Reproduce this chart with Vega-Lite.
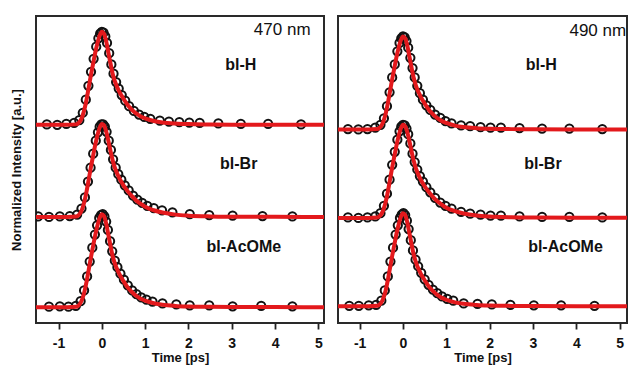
{
  "$schema": "https://vega.github.io/schema/vega-lite/v6.json",
  "background": "white",
  "padding": {"left": 9, "top": 15, "right": 2, "bottom": 0},
  "spacing": 12,
  "config": {
    "font": "Liberation Sans",
    "view": {"stroke": "#2a2a2a", "strokeWidth": 2},
    "axis": {"grid": false, "domain": false}
  },
  "datasets": {
    "obs": [
      {"p":"470 nm","s":"bl-H","t":-1.27,"y":1.965},{"p":"470 nm","s":"bl-H","t":-1.03,"y":1.96},{"p":"470 nm","s":"bl-H","t":-0.82,"y":1.97},{"p":"470 nm","s":"bl-H","t":-0.64,"y":1.98},{"p":"470 nm","s":"bl-H","t":-0.52,"y":2.01},{"p":"470 nm","s":"bl-H","t":-0.44,"y":2.09},{"p":"470 nm","s":"bl-H","t":-0.37,"y":2.23},{"p":"470 nm","s":"bl-H","t":-0.31,"y":2.38},{"p":"470 nm","s":"bl-H","t":-0.25,"y":2.53},{"p":"470 nm","s":"bl-H","t":-0.19,"y":2.67},{"p":"470 nm","s":"bl-H","t":-0.13,"y":2.8},{"p":"470 nm","s":"bl-H","t":-0.08,"y":2.89},{"p":"470 nm","s":"bl-H","t":-0.04,"y":2.94},{"p":"470 nm","s":"bl-H","t":0.0,"y":2.96},{"p":"470 nm","s":"bl-H","t":0.04,"y":2.95},{"p":"470 nm","s":"bl-H","t":0.08,"y":2.91},{"p":"470 nm","s":"bl-H","t":0.12,"y":2.84},{"p":"470 nm","s":"bl-H","t":0.17,"y":2.73},{"p":"470 nm","s":"bl-H","t":0.22,"y":2.61},{"p":"470 nm","s":"bl-H","t":0.27,"y":2.51},{"p":"470 nm","s":"bl-H","t":0.33,"y":2.42},{"p":"470 nm","s":"bl-H","t":0.39,"y":2.35},{"p":"470 nm","s":"bl-H","t":0.46,"y":2.28},{"p":"470 nm","s":"bl-H","t":0.54,"y":2.22},{"p":"470 nm","s":"bl-H","t":0.63,"y":2.16},{"p":"470 nm","s":"bl-H","t":0.74,"y":2.11},{"p":"470 nm","s":"bl-H","t":0.86,"y":2.07},{"p":"470 nm","s":"bl-H","t":0.98,"y":2.045},{"p":"470 nm","s":"bl-H","t":1.12,"y":2.025},{"p":"470 nm","s":"bl-H","t":1.34,"y":2.005},{"p":"470 nm","s":"bl-H","t":1.55,"y":1.995},{"p":"470 nm","s":"bl-H","t":1.79,"y":1.99},{"p":"470 nm","s":"bl-H","t":2.02,"y":1.985},{"p":"470 nm","s":"bl-H","t":2.26,"y":1.98},{"p":"470 nm","s":"bl-H","t":2.69,"y":1.975},{"p":"470 nm","s":"bl-H","t":3.21,"y":1.97},{"p":"470 nm","s":"bl-H","t":3.84,"y":1.97},{"p":"470 nm","s":"bl-H","t":4.6,"y":1.965},

      {"p":"470 nm","s":"bl-Br","t":-1.47,"y":0.975},{"p":"470 nm","s":"bl-Br","t":-1.22,"y":0.97},{"p":"470 nm","s":"bl-Br","t":-0.97,"y":0.975},{"p":"470 nm","s":"bl-Br","t":-0.74,"y":0.98},{"p":"470 nm","s":"bl-Br","t":-0.57,"y":0.995},{"p":"470 nm","s":"bl-Br","t":-0.47,"y":1.06},{"p":"470 nm","s":"bl-Br","t":-0.39,"y":1.18},{"p":"470 nm","s":"bl-Br","t":-0.32,"y":1.35},{"p":"470 nm","s":"bl-Br","t":-0.26,"y":1.5},{"p":"470 nm","s":"bl-Br","t":-0.2,"y":1.65},{"p":"470 nm","s":"bl-Br","t":-0.14,"y":1.79},{"p":"470 nm","s":"bl-Br","t":-0.09,"y":1.88},{"p":"470 nm","s":"bl-Br","t":-0.05,"y":1.94},{"p":"470 nm","s":"bl-Br","t":-0.01,"y":1.965},{"p":"470 nm","s":"bl-Br","t":0.03,"y":1.965},{"p":"470 nm","s":"bl-Br","t":0.07,"y":1.94},{"p":"470 nm","s":"bl-Br","t":0.11,"y":1.885},{"p":"470 nm","s":"bl-Br","t":0.16,"y":1.79},{"p":"470 nm","s":"bl-Br","t":0.21,"y":1.69},{"p":"470 nm","s":"bl-Br","t":0.26,"y":1.59},{"p":"470 nm","s":"bl-Br","t":0.32,"y":1.5},{"p":"470 nm","s":"bl-Br","t":0.38,"y":1.43},{"p":"470 nm","s":"bl-Br","t":0.45,"y":1.37},{"p":"470 nm","s":"bl-Br","t":0.53,"y":1.31},{"p":"470 nm","s":"bl-Br","t":0.62,"y":1.255},{"p":"470 nm","s":"bl-Br","t":0.72,"y":1.2},{"p":"470 nm","s":"bl-Br","t":0.82,"y":1.155},{"p":"470 nm","s":"bl-Br","t":0.93,"y":1.12},{"p":"470 nm","s":"bl-Br","t":1.05,"y":1.09},{"p":"470 nm","s":"bl-Br","t":1.2,"y":1.065},{"p":"470 nm","s":"bl-Br","t":1.39,"y":1.04},{"p":"470 nm","s":"bl-Br","t":1.63,"y":1.02},{"p":"470 nm","s":"bl-Br","t":2.03,"y":1.0},{"p":"470 nm","s":"bl-Br","t":2.48,"y":0.99},{"p":"470 nm","s":"bl-Br","t":3.02,"y":0.985},{"p":"470 nm","s":"bl-Br","t":3.71,"y":0.98},{"p":"470 nm","s":"bl-Br","t":4.4,"y":0.975},

      {"p":"470 nm","s":"bl-AcOMe","t":-1.22,"y":0.005},{"p":"470 nm","s":"bl-AcOMe","t":-0.97,"y":0.01},{"p":"470 nm","s":"bl-AcOMe","t":-0.77,"y":0.005},{"p":"470 nm","s":"bl-AcOMe","t":-0.6,"y":0.015},{"p":"470 nm","s":"bl-AcOMe","t":-0.49,"y":0.065},{"p":"470 nm","s":"bl-AcOMe","t":-0.41,"y":0.18},{"p":"470 nm","s":"bl-AcOMe","t":-0.34,"y":0.33},{"p":"470 nm","s":"bl-AcOMe","t":-0.28,"y":0.49},{"p":"470 nm","s":"bl-AcOMe","t":-0.22,"y":0.64},{"p":"470 nm","s":"bl-AcOMe","t":-0.16,"y":0.78},{"p":"470 nm","s":"bl-AcOMe","t":-0.11,"y":0.88},{"p":"470 nm","s":"bl-AcOMe","t":-0.06,"y":0.96},{"p":"470 nm","s":"bl-AcOMe","t":-0.02,"y":0.99},{"p":"470 nm","s":"bl-AcOMe","t":0.02,"y":1.0},{"p":"470 nm","s":"bl-AcOMe","t":0.06,"y":0.975},{"p":"470 nm","s":"bl-AcOMe","t":0.1,"y":0.92},{"p":"470 nm","s":"bl-AcOMe","t":0.14,"y":0.83},{"p":"470 nm","s":"bl-AcOMe","t":0.19,"y":0.71},{"p":"470 nm","s":"bl-AcOMe","t":0.24,"y":0.6},{"p":"470 nm","s":"bl-AcOMe","t":0.3,"y":0.5},{"p":"470 nm","s":"bl-AcOMe","t":0.36,"y":0.43},{"p":"470 nm","s":"bl-AcOMe","t":0.43,"y":0.36},{"p":"470 nm","s":"bl-AcOMe","t":0.51,"y":0.295},{"p":"470 nm","s":"bl-AcOMe","t":0.6,"y":0.235},{"p":"470 nm","s":"bl-AcOMe","t":0.7,"y":0.18},{"p":"470 nm","s":"bl-AcOMe","t":0.8,"y":0.14},{"p":"470 nm","s":"bl-AcOMe","t":0.91,"y":0.105},{"p":"470 nm","s":"bl-AcOMe","t":1.03,"y":0.08},{"p":"470 nm","s":"bl-AcOMe","t":1.17,"y":0.06},{"p":"470 nm","s":"bl-AcOMe","t":1.4,"y":0.04},{"p":"470 nm","s":"bl-AcOMe","t":1.72,"y":0.03},{"p":"470 nm","s":"bl-AcOMe","t":2.03,"y":0.02},{"p":"470 nm","s":"bl-AcOMe","t":2.48,"y":0.02},{"p":"470 nm","s":"bl-AcOMe","t":3.02,"y":0.01},{"p":"470 nm","s":"bl-AcOMe","t":3.68,"y":0.015},{"p":"470 nm","s":"bl-AcOMe","t":4.4,"y":0.01},

      {"p":"490 nm","s":"bl-H","t":-1.27,"y":1.915},{"p":"490 nm","s":"bl-H","t":-1.03,"y":1.91},{"p":"490 nm","s":"bl-H","t":-0.82,"y":1.915},{"p":"490 nm","s":"bl-H","t":-0.64,"y":1.93},{"p":"490 nm","s":"bl-H","t":-0.52,"y":1.96},{"p":"490 nm","s":"bl-H","t":-0.44,"y":2.03},{"p":"490 nm","s":"bl-H","t":-0.37,"y":2.16},{"p":"490 nm","s":"bl-H","t":-0.31,"y":2.31},{"p":"490 nm","s":"bl-H","t":-0.25,"y":2.47},{"p":"490 nm","s":"bl-H","t":-0.19,"y":2.61},{"p":"490 nm","s":"bl-H","t":-0.13,"y":2.75},{"p":"490 nm","s":"bl-H","t":-0.08,"y":2.84},{"p":"490 nm","s":"bl-H","t":-0.04,"y":2.89},{"p":"490 nm","s":"bl-H","t":0.0,"y":2.91},{"p":"490 nm","s":"bl-H","t":0.04,"y":2.9},{"p":"490 nm","s":"bl-H","t":0.08,"y":2.86},{"p":"490 nm","s":"bl-H","t":0.12,"y":2.79},{"p":"490 nm","s":"bl-H","t":0.17,"y":2.68},{"p":"490 nm","s":"bl-H","t":0.22,"y":2.57},{"p":"490 nm","s":"bl-H","t":0.27,"y":2.47},{"p":"490 nm","s":"bl-H","t":0.33,"y":2.38},{"p":"490 nm","s":"bl-H","t":0.39,"y":2.3},{"p":"490 nm","s":"bl-H","t":0.46,"y":2.23},{"p":"490 nm","s":"bl-H","t":0.54,"y":2.17},{"p":"490 nm","s":"bl-H","t":0.63,"y":2.12},{"p":"490 nm","s":"bl-H","t":0.74,"y":2.07},{"p":"490 nm","s":"bl-H","t":0.86,"y":2.035},{"p":"490 nm","s":"bl-H","t":0.98,"y":2.0},{"p":"490 nm","s":"bl-H","t":1.12,"y":1.975},{"p":"490 nm","s":"bl-H","t":1.34,"y":1.955},{"p":"490 nm","s":"bl-H","t":1.55,"y":1.945},{"p":"490 nm","s":"bl-H","t":1.79,"y":1.935},{"p":"490 nm","s":"bl-H","t":2.02,"y":1.93},{"p":"490 nm","s":"bl-H","t":2.26,"y":1.93},{"p":"490 nm","s":"bl-H","t":2.69,"y":1.925},{"p":"490 nm","s":"bl-H","t":3.21,"y":1.92},{"p":"490 nm","s":"bl-H","t":3.84,"y":1.92},{"p":"490 nm","s":"bl-H","t":4.6,"y":1.915},

      {"p":"490 nm","s":"bl-Br","t":-1.27,"y":0.965},{"p":"490 nm","s":"bl-Br","t":-1.03,"y":0.96},{"p":"490 nm","s":"bl-Br","t":-0.82,"y":0.965},{"p":"490 nm","s":"bl-Br","t":-0.64,"y":0.975},{"p":"490 nm","s":"bl-Br","t":-0.52,"y":1.01},{"p":"490 nm","s":"bl-Br","t":-0.44,"y":1.09},{"p":"490 nm","s":"bl-Br","t":-0.37,"y":1.22},{"p":"490 nm","s":"bl-Br","t":-0.31,"y":1.37},{"p":"490 nm","s":"bl-Br","t":-0.25,"y":1.53},{"p":"490 nm","s":"bl-Br","t":-0.19,"y":1.67},{"p":"490 nm","s":"bl-Br","t":-0.13,"y":1.8},{"p":"490 nm","s":"bl-Br","t":-0.08,"y":1.89},{"p":"490 nm","s":"bl-Br","t":-0.04,"y":1.94},{"p":"490 nm","s":"bl-Br","t":0.0,"y":1.96},{"p":"490 nm","s":"bl-Br","t":0.04,"y":1.955},{"p":"490 nm","s":"bl-Br","t":0.08,"y":1.92},{"p":"490 nm","s":"bl-Br","t":0.12,"y":1.86},{"p":"490 nm","s":"bl-Br","t":0.17,"y":1.76},{"p":"490 nm","s":"bl-Br","t":0.22,"y":1.65},{"p":"490 nm","s":"bl-Br","t":0.27,"y":1.56},{"p":"490 nm","s":"bl-Br","t":0.33,"y":1.48},{"p":"490 nm","s":"bl-Br","t":0.39,"y":1.41},{"p":"490 nm","s":"bl-Br","t":0.46,"y":1.35},{"p":"490 nm","s":"bl-Br","t":0.54,"y":1.29},{"p":"490 nm","s":"bl-Br","t":0.63,"y":1.235},{"p":"490 nm","s":"bl-Br","t":0.74,"y":1.175},{"p":"490 nm","s":"bl-Br","t":0.86,"y":1.125},{"p":"490 nm","s":"bl-Br","t":0.98,"y":1.09},{"p":"490 nm","s":"bl-Br","t":1.12,"y":1.06},{"p":"490 nm","s":"bl-Br","t":1.34,"y":1.025},{"p":"490 nm","s":"bl-Br","t":1.55,"y":1.005},{"p":"490 nm","s":"bl-Br","t":1.79,"y":0.995},{"p":"490 nm","s":"bl-Br","t":2.02,"y":0.985},{"p":"490 nm","s":"bl-Br","t":2.26,"y":0.985},{"p":"490 nm","s":"bl-Br","t":2.69,"y":0.975},{"p":"490 nm","s":"bl-Br","t":3.21,"y":0.97},{"p":"490 nm","s":"bl-Br","t":3.84,"y":0.97},{"p":"490 nm","s":"bl-Br","t":4.6,"y":0.965},

      {"p":"490 nm","s":"bl-AcOMe","t":-1.24,"y":0.015},{"p":"490 nm","s":"bl-AcOMe","t":-1.02,"y":0.015},{"p":"490 nm","s":"bl-AcOMe","t":-0.79,"y":0.02},{"p":"490 nm","s":"bl-AcOMe","t":-0.62,"y":0.025},{"p":"490 nm","s":"bl-AcOMe","t":-0.5,"y":0.07},{"p":"490 nm","s":"bl-AcOMe","t":-0.42,"y":0.18},{"p":"490 nm","s":"bl-AcOMe","t":-0.35,"y":0.33},{"p":"490 nm","s":"bl-AcOMe","t":-0.29,"y":0.49},{"p":"490 nm","s":"bl-AcOMe","t":-0.23,"y":0.64},{"p":"490 nm","s":"bl-AcOMe","t":-0.17,"y":0.78},{"p":"490 nm","s":"bl-AcOMe","t":-0.12,"y":0.88},{"p":"490 nm","s":"bl-AcOMe","t":-0.07,"y":0.96},{"p":"490 nm","s":"bl-AcOMe","t":-0.03,"y":0.995},{"p":"490 nm","s":"bl-AcOMe","t":0.01,"y":1.01},{"p":"490 nm","s":"bl-AcOMe","t":0.05,"y":0.99},{"p":"490 nm","s":"bl-AcOMe","t":0.09,"y":0.93},{"p":"490 nm","s":"bl-AcOMe","t":0.13,"y":0.84},{"p":"490 nm","s":"bl-AcOMe","t":0.18,"y":0.72},{"p":"490 nm","s":"bl-AcOMe","t":0.23,"y":0.61},{"p":"490 nm","s":"bl-AcOMe","t":0.29,"y":0.51},{"p":"490 nm","s":"bl-AcOMe","t":0.35,"y":0.44},{"p":"490 nm","s":"bl-AcOMe","t":0.42,"y":0.37},{"p":"490 nm","s":"bl-AcOMe","t":0.5,"y":0.3},{"p":"490 nm","s":"bl-AcOMe","t":0.59,"y":0.24},{"p":"490 nm","s":"bl-AcOMe","t":0.69,"y":0.19},{"p":"490 nm","s":"bl-AcOMe","t":0.79,"y":0.15},{"p":"490 nm","s":"bl-AcOMe","t":0.9,"y":0.115},{"p":"490 nm","s":"bl-AcOMe","t":1.02,"y":0.09},{"p":"490 nm","s":"bl-AcOMe","t":1.16,"y":0.07},{"p":"490 nm","s":"bl-AcOMe","t":1.4,"y":0.04},{"p":"490 nm","s":"bl-AcOMe","t":1.72,"y":0.035},{"p":"490 nm","s":"bl-AcOMe","t":2.05,"y":0.03},{"p":"490 nm","s":"bl-AcOMe","t":2.48,"y":0.025},{"p":"490 nm","s":"bl-AcOMe","t":3.02,"y":0.02},{"p":"490 nm","s":"bl-AcOMe","t":3.65,"y":0.02},{"p":"490 nm","s":"bl-AcOMe","t":4.42,"y":0.015}
    ],
    "fit": [
      {"p":"470 nm","s":"bl-H","t":-1.6,"y":1.96},{"p":"470 nm","s":"bl-H","t":-0.8,"y":1.96},{"p":"470 nm","s":"bl-H","t":-0.6,"y":1.965},{"p":"470 nm","s":"bl-H","t":-0.55,"y":1.975},{"p":"470 nm","s":"bl-H","t":-0.5,"y":2.0},{"p":"470 nm","s":"bl-H","t":-0.45,"y":2.05},{"p":"470 nm","s":"bl-H","t":-0.4,"y":2.13},{"p":"470 nm","s":"bl-H","t":-0.35,"y":2.24},{"p":"470 nm","s":"bl-H","t":-0.3,"y":2.37},{"p":"470 nm","s":"bl-H","t":-0.25,"y":2.5},{"p":"470 nm","s":"bl-H","t":-0.2,"y":2.62},{"p":"470 nm","s":"bl-H","t":-0.15,"y":2.74},{"p":"470 nm","s":"bl-H","t":-0.1,"y":2.84},{"p":"470 nm","s":"bl-H","t":-0.05,"y":2.92},{"p":"470 nm","s":"bl-H","t":0.0,"y":2.96},{"p":"470 nm","s":"bl-H","t":0.05,"y":2.94},{"p":"470 nm","s":"bl-H","t":0.1,"y":2.86},{"p":"470 nm","s":"bl-H","t":0.15,"y":2.74},{"p":"470 nm","s":"bl-H","t":0.2,"y":2.62},{"p":"470 nm","s":"bl-H","t":0.25,"y":2.51},{"p":"470 nm","s":"bl-H","t":0.3,"y":2.43},{"p":"470 nm","s":"bl-H","t":0.4,"y":2.32},{"p":"470 nm","s":"bl-H","t":0.5,"y":2.24},{"p":"470 nm","s":"bl-H","t":0.6,"y":2.17},{"p":"470 nm","s":"bl-H","t":0.7,"y":2.12},{"p":"470 nm","s":"bl-H","t":0.8,"y":2.08},{"p":"470 nm","s":"bl-H","t":0.9,"y":2.05},{"p":"470 nm","s":"bl-H","t":1.0,"y":2.03},{"p":"470 nm","s":"bl-H","t":1.2,"y":2.002},{"p":"470 nm","s":"bl-H","t":1.4,"y":1.986},{"p":"470 nm","s":"bl-H","t":1.7,"y":1.974},{"p":"470 nm","s":"bl-H","t":2.0,"y":1.968},{"p":"470 nm","s":"bl-H","t":2.5,"y":1.964},{"p":"470 nm","s":"bl-H","t":3.0,"y":1.962},{"p":"470 nm","s":"bl-H","t":4.0,"y":1.961},{"p":"470 nm","s":"bl-H","t":5.3,"y":1.96},

      {"p":"470 nm","s":"bl-Br","t":-1.6,"y":0.97},{"p":"470 nm","s":"bl-Br","t":-0.8,"y":0.97},{"p":"470 nm","s":"bl-Br","t":-0.6,"y":0.975},{"p":"470 nm","s":"bl-Br","t":-0.55,"y":0.985},{"p":"470 nm","s":"bl-Br","t":-0.5,"y":1.01},{"p":"470 nm","s":"bl-Br","t":-0.45,"y":1.06},{"p":"470 nm","s":"bl-Br","t":-0.4,"y":1.14},{"p":"470 nm","s":"bl-Br","t":-0.35,"y":1.25},{"p":"470 nm","s":"bl-Br","t":-0.3,"y":1.38},{"p":"470 nm","s":"bl-Br","t":-0.25,"y":1.51},{"p":"470 nm","s":"bl-Br","t":-0.2,"y":1.63},{"p":"470 nm","s":"bl-Br","t":-0.15,"y":1.75},{"p":"470 nm","s":"bl-Br","t":-0.1,"y":1.85},{"p":"470 nm","s":"bl-Br","t":-0.05,"y":1.93},{"p":"470 nm","s":"bl-Br","t":0.0,"y":1.97},{"p":"470 nm","s":"bl-Br","t":0.05,"y":1.955},{"p":"470 nm","s":"bl-Br","t":0.1,"y":1.89},{"p":"470 nm","s":"bl-Br","t":0.15,"y":1.79},{"p":"470 nm","s":"bl-Br","t":0.2,"y":1.68},{"p":"470 nm","s":"bl-Br","t":0.25,"y":1.58},{"p":"470 nm","s":"bl-Br","t":0.3,"y":1.5},{"p":"470 nm","s":"bl-Br","t":0.4,"y":1.39},{"p":"470 nm","s":"bl-Br","t":0.5,"y":1.31},{"p":"470 nm","s":"bl-Br","t":0.6,"y":1.245},{"p":"470 nm","s":"bl-Br","t":0.7,"y":1.19},{"p":"470 nm","s":"bl-Br","t":0.8,"y":1.145},{"p":"470 nm","s":"bl-Br","t":0.9,"y":1.11},{"p":"470 nm","s":"bl-Br","t":1.0,"y":1.08},{"p":"470 nm","s":"bl-Br","t":1.2,"y":1.042},{"p":"470 nm","s":"bl-Br","t":1.4,"y":1.017},{"p":"470 nm","s":"bl-Br","t":1.7,"y":0.995},{"p":"470 nm","s":"bl-Br","t":2.0,"y":0.984},{"p":"470 nm","s":"bl-Br","t":2.5,"y":0.976},{"p":"470 nm","s":"bl-Br","t":3.0,"y":0.973},{"p":"470 nm","s":"bl-Br","t":4.0,"y":0.971},{"p":"470 nm","s":"bl-Br","t":5.3,"y":0.97},

      {"p":"470 nm","s":"bl-AcOMe","t":-1.6,"y":0.0},{"p":"470 nm","s":"bl-AcOMe","t":-0.8,"y":0.0},{"p":"470 nm","s":"bl-AcOMe","t":-0.6,"y":0.005},{"p":"470 nm","s":"bl-AcOMe","t":-0.55,"y":0.015},{"p":"470 nm","s":"bl-AcOMe","t":-0.5,"y":0.04},{"p":"470 nm","s":"bl-AcOMe","t":-0.45,"y":0.09},{"p":"470 nm","s":"bl-AcOMe","t":-0.4,"y":0.17},{"p":"470 nm","s":"bl-AcOMe","t":-0.35,"y":0.28},{"p":"470 nm","s":"bl-AcOMe","t":-0.3,"y":0.41},{"p":"470 nm","s":"bl-AcOMe","t":-0.25,"y":0.54},{"p":"470 nm","s":"bl-AcOMe","t":-0.2,"y":0.66},{"p":"470 nm","s":"bl-AcOMe","t":-0.15,"y":0.78},{"p":"470 nm","s":"bl-AcOMe","t":-0.1,"y":0.88},{"p":"470 nm","s":"bl-AcOMe","t":-0.05,"y":0.96},{"p":"470 nm","s":"bl-AcOMe","t":0.0,"y":1.0},{"p":"470 nm","s":"bl-AcOMe","t":0.05,"y":0.98},{"p":"470 nm","s":"bl-AcOMe","t":0.1,"y":0.9},{"p":"470 nm","s":"bl-AcOMe","t":0.15,"y":0.78},{"p":"470 nm","s":"bl-AcOMe","t":0.2,"y":0.66},{"p":"470 nm","s":"bl-AcOMe","t":0.25,"y":0.55},{"p":"470 nm","s":"bl-AcOMe","t":0.3,"y":0.47},{"p":"470 nm","s":"bl-AcOMe","t":0.4,"y":0.36},{"p":"470 nm","s":"bl-AcOMe","t":0.5,"y":0.28},{"p":"470 nm","s":"bl-AcOMe","t":0.6,"y":0.21},{"p":"470 nm","s":"bl-AcOMe","t":0.7,"y":0.16},{"p":"470 nm","s":"bl-AcOMe","t":0.8,"y":0.12},{"p":"470 nm","s":"bl-AcOMe","t":0.9,"y":0.09},{"p":"470 nm","s":"bl-AcOMe","t":1.0,"y":0.07},{"p":"470 nm","s":"bl-AcOMe","t":1.2,"y":0.042},{"p":"470 nm","s":"bl-AcOMe","t":1.4,"y":0.026},{"p":"470 nm","s":"bl-AcOMe","t":1.7,"y":0.014},{"p":"470 nm","s":"bl-AcOMe","t":2.0,"y":0.008},{"p":"470 nm","s":"bl-AcOMe","t":2.5,"y":0.004},{"p":"470 nm","s":"bl-AcOMe","t":3.0,"y":0.002},{"p":"470 nm","s":"bl-AcOMe","t":4.0,"y":0.001},{"p":"470 nm","s":"bl-AcOMe","t":5.3,"y":0.0},

      {"p":"490 nm","s":"bl-H","t":-1.6,"y":1.91},{"p":"490 nm","s":"bl-H","t":-0.8,"y":1.91},{"p":"490 nm","s":"bl-H","t":-0.6,"y":1.915},{"p":"490 nm","s":"bl-H","t":-0.55,"y":1.925},{"p":"490 nm","s":"bl-H","t":-0.5,"y":1.95},{"p":"490 nm","s":"bl-H","t":-0.45,"y":2.0},{"p":"490 nm","s":"bl-H","t":-0.4,"y":2.08},{"p":"490 nm","s":"bl-H","t":-0.35,"y":2.19},{"p":"490 nm","s":"bl-H","t":-0.3,"y":2.32},{"p":"490 nm","s":"bl-H","t":-0.25,"y":2.45},{"p":"490 nm","s":"bl-H","t":-0.2,"y":2.57},{"p":"490 nm","s":"bl-H","t":-0.15,"y":2.69},{"p":"490 nm","s":"bl-H","t":-0.1,"y":2.79},{"p":"490 nm","s":"bl-H","t":-0.05,"y":2.87},{"p":"490 nm","s":"bl-H","t":0.0,"y":2.91},{"p":"490 nm","s":"bl-H","t":0.05,"y":2.89},{"p":"490 nm","s":"bl-H","t":0.1,"y":2.81},{"p":"490 nm","s":"bl-H","t":0.15,"y":2.69},{"p":"490 nm","s":"bl-H","t":0.2,"y":2.57},{"p":"490 nm","s":"bl-H","t":0.25,"y":2.46},{"p":"490 nm","s":"bl-H","t":0.3,"y":2.38},{"p":"490 nm","s":"bl-H","t":0.4,"y":2.27},{"p":"490 nm","s":"bl-H","t":0.5,"y":2.19},{"p":"490 nm","s":"bl-H","t":0.6,"y":2.12},{"p":"490 nm","s":"bl-H","t":0.7,"y":2.07},{"p":"490 nm","s":"bl-H","t":0.8,"y":2.03},{"p":"490 nm","s":"bl-H","t":0.9,"y":2.0},{"p":"490 nm","s":"bl-H","t":1.0,"y":1.98},{"p":"490 nm","s":"bl-H","t":1.2,"y":1.952},{"p":"490 nm","s":"bl-H","t":1.4,"y":1.936},{"p":"490 nm","s":"bl-H","t":1.7,"y":1.924},{"p":"490 nm","s":"bl-H","t":2.0,"y":1.918},{"p":"490 nm","s":"bl-H","t":2.5,"y":1.914},{"p":"490 nm","s":"bl-H","t":3.0,"y":1.912},{"p":"490 nm","s":"bl-H","t":4.0,"y":1.911},{"p":"490 nm","s":"bl-H","t":5.3,"y":1.91},

      {"p":"490 nm","s":"bl-Br","t":-1.6,"y":0.96},{"p":"490 nm","s":"bl-Br","t":-0.8,"y":0.96},{"p":"490 nm","s":"bl-Br","t":-0.6,"y":0.965},{"p":"490 nm","s":"bl-Br","t":-0.55,"y":0.975},{"p":"490 nm","s":"bl-Br","t":-0.5,"y":1.0},{"p":"490 nm","s":"bl-Br","t":-0.45,"y":1.05},{"p":"490 nm","s":"bl-Br","t":-0.4,"y":1.13},{"p":"490 nm","s":"bl-Br","t":-0.35,"y":1.24},{"p":"490 nm","s":"bl-Br","t":-0.3,"y":1.37},{"p":"490 nm","s":"bl-Br","t":-0.25,"y":1.5},{"p":"490 nm","s":"bl-Br","t":-0.2,"y":1.62},{"p":"490 nm","s":"bl-Br","t":-0.15,"y":1.74},{"p":"490 nm","s":"bl-Br","t":-0.1,"y":1.84},{"p":"490 nm","s":"bl-Br","t":-0.05,"y":1.92},{"p":"490 nm","s":"bl-Br","t":0.0,"y":1.96},{"p":"490 nm","s":"bl-Br","t":0.05,"y":1.945},{"p":"490 nm","s":"bl-Br","t":0.1,"y":1.88},{"p":"490 nm","s":"bl-Br","t":0.15,"y":1.78},{"p":"490 nm","s":"bl-Br","t":0.2,"y":1.67},{"p":"490 nm","s":"bl-Br","t":0.25,"y":1.57},{"p":"490 nm","s":"bl-Br","t":0.3,"y":1.49},{"p":"490 nm","s":"bl-Br","t":0.4,"y":1.38},{"p":"490 nm","s":"bl-Br","t":0.5,"y":1.3},{"p":"490 nm","s":"bl-Br","t":0.6,"y":1.235},{"p":"490 nm","s":"bl-Br","t":0.7,"y":1.18},{"p":"490 nm","s":"bl-Br","t":0.8,"y":1.135},{"p":"490 nm","s":"bl-Br","t":0.9,"y":1.1},{"p":"490 nm","s":"bl-Br","t":1.0,"y":1.07},{"p":"490 nm","s":"bl-Br","t":1.2,"y":1.032},{"p":"490 nm","s":"bl-Br","t":1.4,"y":1.007},{"p":"490 nm","s":"bl-Br","t":1.7,"y":0.985},{"p":"490 nm","s":"bl-Br","t":2.0,"y":0.974},{"p":"490 nm","s":"bl-Br","t":2.5,"y":0.966},{"p":"490 nm","s":"bl-Br","t":3.0,"y":0.963},{"p":"490 nm","s":"bl-Br","t":4.0,"y":0.961},{"p":"490 nm","s":"bl-Br","t":5.3,"y":0.96},

      {"p":"490 nm","s":"bl-AcOMe","t":-1.6,"y":0.01},{"p":"490 nm","s":"bl-AcOMe","t":-0.8,"y":0.01},{"p":"490 nm","s":"bl-AcOMe","t":-0.6,"y":0.015},{"p":"490 nm","s":"bl-AcOMe","t":-0.55,"y":0.025},{"p":"490 nm","s":"bl-AcOMe","t":-0.5,"y":0.05},{"p":"490 nm","s":"bl-AcOMe","t":-0.45,"y":0.1},{"p":"490 nm","s":"bl-AcOMe","t":-0.4,"y":0.18},{"p":"490 nm","s":"bl-AcOMe","t":-0.35,"y":0.29},{"p":"490 nm","s":"bl-AcOMe","t":-0.3,"y":0.42},{"p":"490 nm","s":"bl-AcOMe","t":-0.25,"y":0.55},{"p":"490 nm","s":"bl-AcOMe","t":-0.2,"y":0.67},{"p":"490 nm","s":"bl-AcOMe","t":-0.15,"y":0.79},{"p":"490 nm","s":"bl-AcOMe","t":-0.1,"y":0.89},{"p":"490 nm","s":"bl-AcOMe","t":-0.05,"y":0.97},{"p":"490 nm","s":"bl-AcOMe","t":0.0,"y":1.01},{"p":"490 nm","s":"bl-AcOMe","t":0.05,"y":0.99},{"p":"490 nm","s":"bl-AcOMe","t":0.1,"y":0.91},{"p":"490 nm","s":"bl-AcOMe","t":0.15,"y":0.79},{"p":"490 nm","s":"bl-AcOMe","t":0.2,"y":0.67},{"p":"490 nm","s":"bl-AcOMe","t":0.25,"y":0.56},{"p":"490 nm","s":"bl-AcOMe","t":0.3,"y":0.48},{"p":"490 nm","s":"bl-AcOMe","t":0.4,"y":0.37},{"p":"490 nm","s":"bl-AcOMe","t":0.5,"y":0.29},{"p":"490 nm","s":"bl-AcOMe","t":0.6,"y":0.22},{"p":"490 nm","s":"bl-AcOMe","t":0.7,"y":0.17},{"p":"490 nm","s":"bl-AcOMe","t":0.8,"y":0.13},{"p":"490 nm","s":"bl-AcOMe","t":0.9,"y":0.1},{"p":"490 nm","s":"bl-AcOMe","t":1.0,"y":0.08},{"p":"490 nm","s":"bl-AcOMe","t":1.2,"y":0.052},{"p":"490 nm","s":"bl-AcOMe","t":1.4,"y":0.036},{"p":"490 nm","s":"bl-AcOMe","t":1.7,"y":0.024},{"p":"490 nm","s":"bl-AcOMe","t":2.0,"y":0.018},{"p":"490 nm","s":"bl-AcOMe","t":2.5,"y":0.014},{"p":"490 nm","s":"bl-AcOMe","t":3.0,"y":0.012},{"p":"490 nm","s":"bl-AcOMe","t":4.0,"y":0.011},{"p":"490 nm","s":"bl-AcOMe","t":5.3,"y":0.01}
    ],
    "names": [
      {"p":"470 nm","s":"bl-H","t":3.21,"y":2.6},
      {"p":"470 nm","s":"bl-Br","t":3.16,"y":1.54},
      {"p":"470 nm","s":"bl-AcOMe","t":3.28,"y":0.65},
      {"p":"490 nm","s":"bl-H","t":3.19,"y":2.6},
      {"p":"490 nm","s":"bl-Br","t":3.23,"y":1.54},
      {"p":"490 nm","s":"bl-AcOMe","t":3.75,"y":0.65}
    ],
    "waves": [
      {"p":"470 nm","t":4.82,"y":2.98},
      {"p":"490 nm","t":5.15,"y":2.97}
    ]
  },
  "hconcat": [
    {
      "width": 288,
      "height": 307,
      "layer": [
        {
          "data": {"name": "obs"},
          "transform": [{"filter": {"field": "p", "equal": "470 nm"}}],
          "mark": {"type": "point", "shape": "circle", "filled": false, "size": 68, "stroke": "#111111", "strokeWidth": 2, "opacity": 1, "clip": true},
          "encoding": {
            "x": {"field": "t", "type": "quantitative", "scale": {"domain": [-1.52, 5.13], "nice": false, "zero": false},
              "axis": {"title": "Time [ps]", "values": [-1, 0, 1, 2, 3, 4, 5], "labelExpr": "'' + datum.value", "tickSize": 6, "tickWidth": 1.8, "tickColor": "#222222", "labelFontSize": 14, "labelFontWeight": "bold", "labelColor": "#111111", "labelPadding": 7, "labelFlush": false, "titleFontSize": 13, "titleFontWeight": "bold", "titleColor": "#111111", "titlePadding": 1}},
            "y": {"field": "y", "type": "quantitative", "scale": {"domain": [-0.17, 3.13], "nice": false, "zero": false},
              "axis": {"title": "Normalized Intensity [a.u.]", "labels": false, "ticks": false, "titleFontSize": 13, "titleFontWeight": "bold", "titleColor": "#111111", "titlePadding": 13}},
            "detail": {"field": "s"}
          }
        },
        {
          "data": {"name": "fit"},
          "transform": [{"filter": {"field": "p", "equal": "470 nm"}}],
          "mark": {"type": "line", "color": "#e3191c", "strokeWidth": 4, "interpolate": "monotone", "clip": true},
          "encoding": {
            "x": {"field": "t", "type": "quantitative"},
            "y": {"field": "y", "type": "quantitative"},
            "detail": {"field": "s"}
          }
        },
        {
          "data": {"name": "names"},
          "transform": [{"filter": {"field": "p", "equal": "470 nm"}}],
          "mark": {"type": "text", "fontSize": 16, "fontWeight": "bold", "align": "center", "baseline": "middle", "color": "#111111"},
          "encoding": {
            "x": {"field": "t", "type": "quantitative"},
            "y": {"field": "y", "type": "quantitative"},
            "text": {"field": "s"}
          }
        },
        {
          "data": {"name": "waves"},
          "transform": [{"filter": {"field": "p", "equal": "470 nm"}}],
          "mark": {"type": "text", "fontSize": 17, "align": "right", "baseline": "middle", "color": "#111111"},
          "encoding": {
            "x": {"field": "t", "type": "quantitative"},
            "y": {"field": "y", "type": "quantitative"},
            "text": {"field": "p"}
          }
        }
      ]
    },
    {
      "width": 289,
      "height": 307,
      "layer": [
        {
          "data": {"name": "obs"},
          "transform": [{"filter": {"field": "p", "equal": "490 nm"}}],
          "mark": {"type": "point", "shape": "circle", "filled": false, "size": 68, "stroke": "#111111", "strokeWidth": 2, "opacity": 1, "clip": true},
          "encoding": {
            "x": {"field": "t", "type": "quantitative", "scale": {"domain": [-1.5, 5.17], "nice": false, "zero": false},
              "axis": {"title": "Time [ps]", "values": [-1, 0, 1, 2, 3, 4, 5], "labelExpr": "'' + datum.value", "tickSize": 6, "tickWidth": 1.8, "tickColor": "#222222", "labelFontSize": 14, "labelFontWeight": "bold", "labelColor": "#111111", "labelPadding": 7, "labelFlush": false, "titleFontSize": 13, "titleFontWeight": "bold", "titleColor": "#111111", "titlePadding": 1}},
            "y": {"field": "y", "type": "quantitative", "scale": {"domain": [-0.17, 3.13], "nice": false, "zero": false}, "axis": null},
            "detail": {"field": "s"}
          }
        },
        {
          "data": {"name": "fit"},
          "transform": [{"filter": {"field": "p", "equal": "490 nm"}}],
          "mark": {"type": "line", "color": "#e3191c", "strokeWidth": 4, "interpolate": "monotone", "clip": true},
          "encoding": {
            "x": {"field": "t", "type": "quantitative"},
            "y": {"field": "y", "type": "quantitative"},
            "detail": {"field": "s"}
          }
        },
        {
          "data": {"name": "names"},
          "transform": [{"filter": {"field": "p", "equal": "490 nm"}}],
          "mark": {"type": "text", "fontSize": 16, "fontWeight": "bold", "align": "center", "baseline": "middle", "color": "#111111"},
          "encoding": {
            "x": {"field": "t", "type": "quantitative"},
            "y": {"field": "y", "type": "quantitative"},
            "text": {"field": "s"}
          }
        },
        {
          "data": {"name": "waves"},
          "transform": [{"filter": {"field": "p", "equal": "490 nm"}}],
          "mark": {"type": "text", "fontSize": 17, "align": "right", "baseline": "middle", "color": "#111111"},
          "encoding": {
            "x": {"field": "t", "type": "quantitative"},
            "y": {"field": "y", "type": "quantitative"},
            "text": {"field": "p"}
          }
        }
      ]
    }
  ]
}
